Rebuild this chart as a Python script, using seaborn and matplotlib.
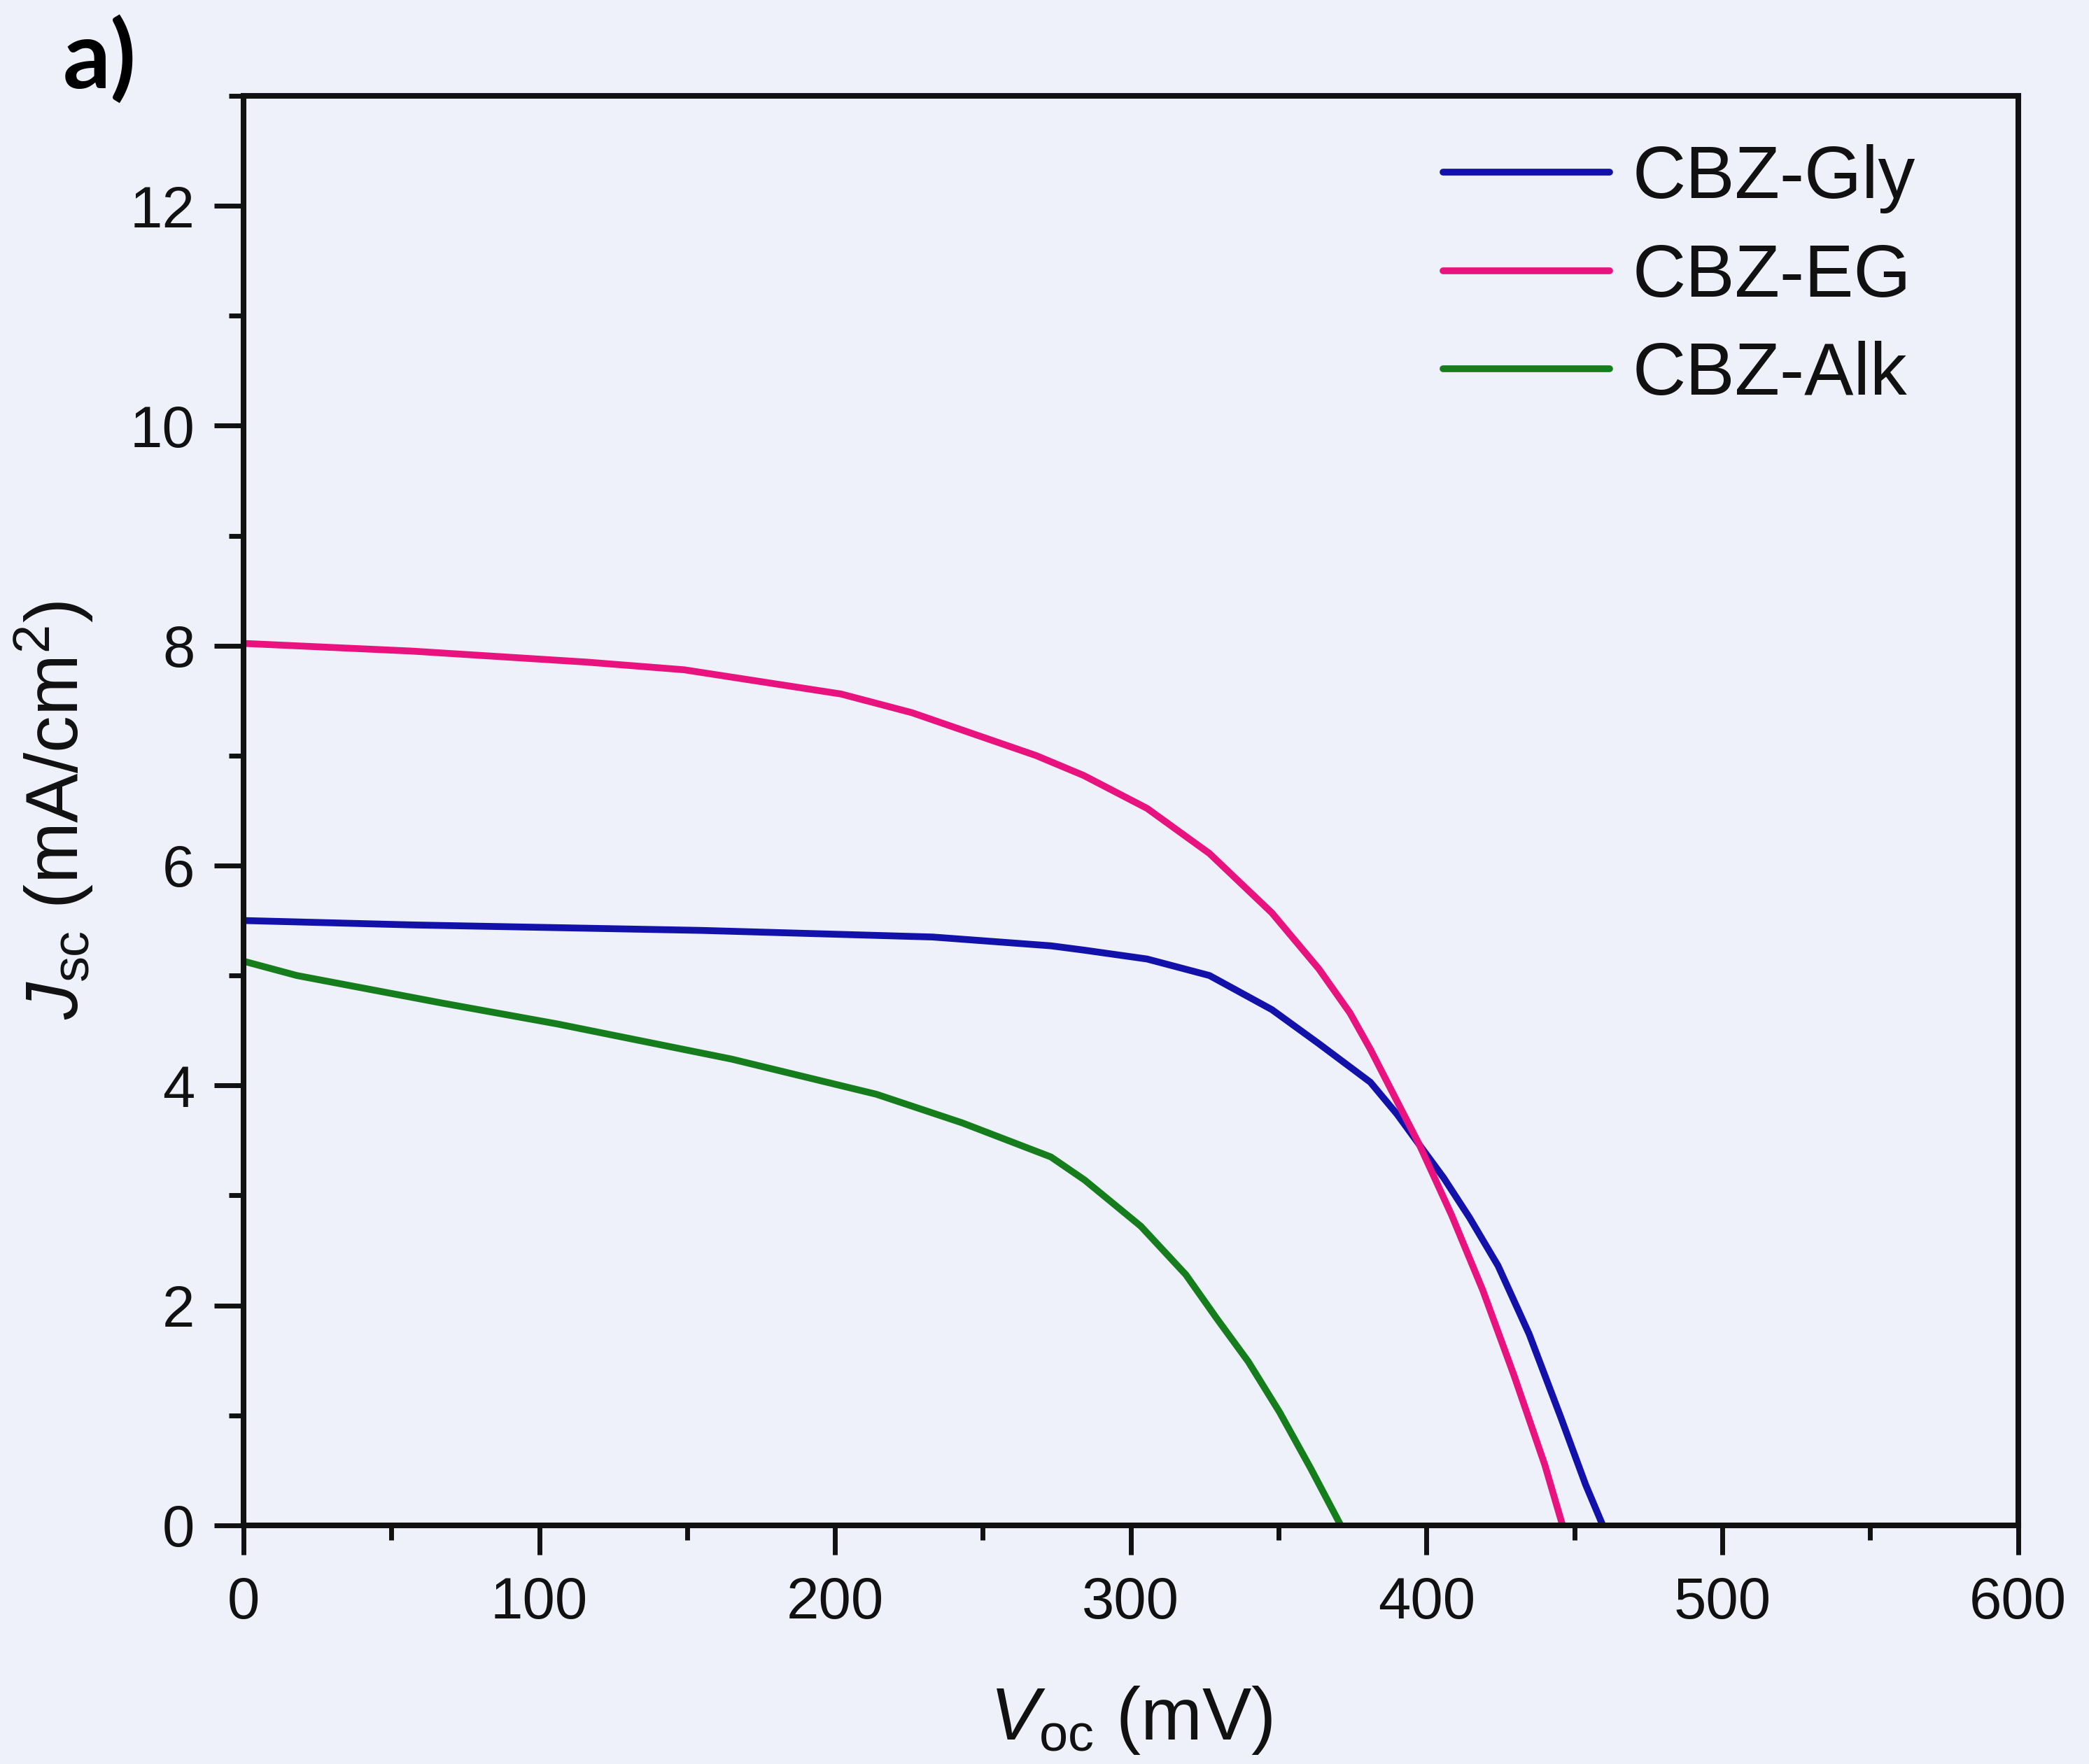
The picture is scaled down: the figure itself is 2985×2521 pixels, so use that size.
import numpy as np
import pandas as pd
import matplotlib
matplotlib.use("Agg")
import matplotlib.pyplot as plt
import seaborn as sns
from matplotlib.ticker import MultipleLocator

# ---- data ----
series_names = ["CBZ-Gly", "CBZ-EG", "CBZ-Alk"]

gly_v = [0, 57, 116, 155, 233, 273, 284.4, 305.5, 326.6, 347.7, 363.6, 381, 390,
         397.6, 405.8, 414.5, 424.2, 434.7, 445.3, 453.8, 459.6]
gly_j = [5.50, 5.46, 5.43, 5.41, 5.35, 5.27, 5.23, 5.15, 5.00, 4.69, 4.38, 4.03, 3.74,
         3.46, 3.16, 2.80, 2.36, 1.74, 0.99, 0.37, 0.0]

eg_v = [0, 57, 116, 149, 202, 226, 268, 284, 305.5, 326.6, 347.7, 363.6, 374.1, 381,
        397.6, 408.5, 419, 429.5, 440, 446]
eg_j = [8.02, 7.95, 7.85, 7.78, 7.56, 7.39, 7.00, 6.82, 6.52, 6.11, 5.57, 5.06, 4.66, 4.33,
        3.46, 2.82, 2.14, 1.37, 0.55, 0.0]

alk_v = [0, 18, 67, 106, 165, 214, 243, 273, 284.4, 293, 303.4, 318.6, 329.1,
         339.7, 350.3, 360.8, 371]
alk_j = [5.13, 5.00, 4.75, 4.56, 4.24, 3.92, 3.66, 3.35, 3.14, 2.95, 2.72, 2.28, 1.88,
         1.49, 1.03, 0.52, 0.0]

x_ticks = [0, 100, 200, 300, 400, 500, 600]
y_ticks = [0, 2, 4, 6, 8, 10, 12]

colors = {"CBZ-Gly": "#1212aa", "CBZ-EG": "#e8137f", "CBZ-Alk": "#167d1c"}

frames = []
for name, v, j in [("CBZ-Gly", gly_v, gly_j), ("CBZ-EG", eg_v, eg_j), ("CBZ-Alk", alk_v, alk_j)]:
    frames.append(pd.DataFrame({"V": v, "J": j, "sample": name}))
df = pd.concat(frames, ignore_index=True)

# ---- style ----
bg = "#eef1f9"
ink = "#111111"
lw = 7
sns.set_theme(style="ticks")
plt.rcParams["font.family"] = ["Liberation Sans", "DejaVu Sans"]
plt.rcParams["mathtext.fontset"] = "custom"
plt.rcParams["mathtext.rm"] = "Liberation Sans"
plt.rcParams["mathtext.it"] = "Liberation Sans:italic"
plt.rcParams["mathtext.bf"] = "Liberation Sans:bold"

fig = plt.figure(figsize=(29.85, 25.21), dpi=100, facecolor=bg)
ax = fig.add_axes([0.1166, 0.1353, 0.966 - 0.1166, 0.9457 - 0.1353])
ax.set_facecolor(bg)

sns.lineplot(data=df, x="V", y="J", hue="sample", hue_order=series_names,
             palette=colors, estimator=None, sort=False, linewidth=lw, ax=ax)
for line in ax.lines:
    line.set_linewidth(lw)
    line.set_solid_joinstyle("round")

ax.set_xlim(0, 600)
ax.set_ylim(0, 13)
ax.set_xticks(x_ticks)
ax.set_yticks(y_ticks)
ax.xaxis.set_minor_locator(MultipleLocator(50))
ax.yaxis.set_minor_locator(MultipleLocator(1))

for s in ax.spines.values():
    s.set_linewidth(5.8)
    s.set_color(ink)
    s.set_visible(True)

ax.tick_params(axis="both", which="major", direction="out", length=30, width=5,
               labelsize=60, color=ink, labelcolor=ink, pad=20)
ax.tick_params(axis="both", which="minor", direction="out", length=15, width=5,
               color=ink)
ax.tick_params(axis="x", which="major", pad=22)
ax.tick_params(top=False, right=False, which="both")

ax.set_xlabel(r"$\mathit{V}_{\mathrm{oc}}$ (mV)", fontsize=76, labelpad=55, color=ink)
ax.set_ylabel(r"$\mathit{J}_{\mathrm{sc}}$ (mA/cm$^{2}$)", fontsize=76, labelpad=36, color=ink)

handles, labels = ax.get_legend_handles_labels()
leg = ax.legend(handles, labels, loc="upper left", bbox_to_anchor=(0.676, 0.966),
                frameon=False, fontsize=76, handlelength=2.25, handletextpad=0.31,
                labelspacing=0.39, borderpad=0, borderaxespad=0)
for line in leg.get_lines():
    line.set_linewidth(lw)
for t in leg.get_texts():
    t.set_color(ink)

fig.text(0.030, 0.950, "a)", fontsize=97, fontweight="bold", family=["Lato", "DejaVu Sans"],
         ha="left", va="baseline", color="#000000")

fig.savefig("out.png", dpi=100, facecolor=bg)
